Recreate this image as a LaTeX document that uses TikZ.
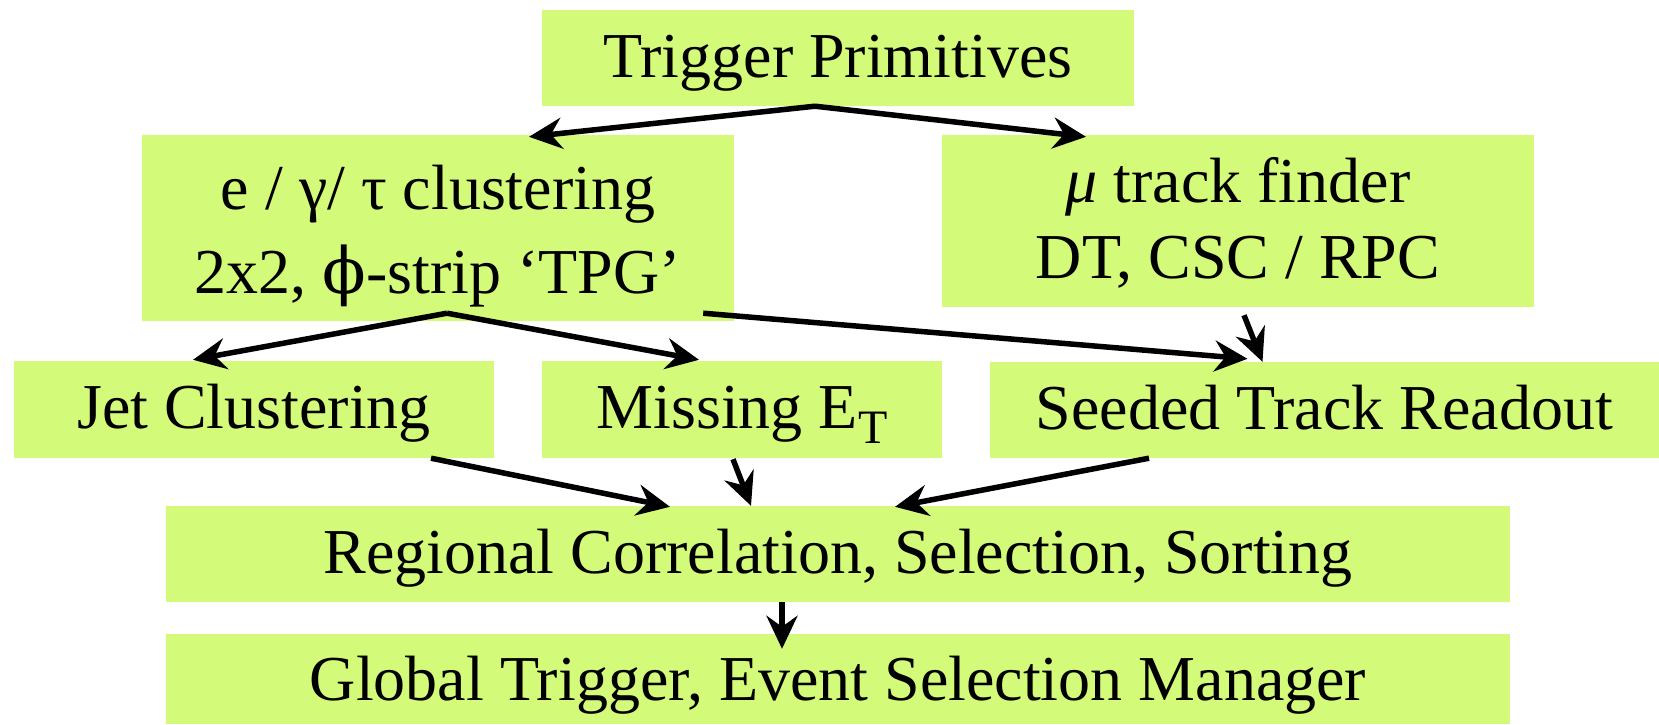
\documentclass[tikz,border=0pt]{standalone}
\usepackage{fontspec}
\setmainfont{Liberation Serif}
\newfontfamily\dvserif{DejaVu Serif}
\usetikzlibrary{arrows.meta}
\definecolor{boxgreen}{HTML}{D4FA7A}
\begin{document}
\begin{tikzpicture}[x=1pt,y=-1pt,
  box/.style={rectangle, fill=boxgreen, inner sep=0pt, font=\fontsize{64}{76}\selectfont, text height=44pt, text depth=6pt},
  arr/.style={-{Stealth[length=33pt,width=31pt,inset=11pt]}, line width=5.5pt, black},
]
\useasboundingbox (0,0) rectangle (1659,724);

\node[box, minimum width=592pt, minimum height=96pt] (tp) at (838,58) {Trigger Primitives};
\node[box, minimum width=592pt, minimum height=186pt, text height=136pt, font=\fontsize{64}{84}\selectfont] (eg) at (438,228)
  {\setlength{\tabcolsep}{0pt}\begin{tabular}[b]{c}e / γ/ τ clustering\\ 2x2, {\dvserif ϕ}-strip ‘TPG’\end{tabular}};
\node[box, minimum width=592pt, minimum height=172pt, text height=120pt, font=\fontsize{64}{76}\selectfont] (mu) at (1238,221)
  {\setlength{\tabcolsep}{0pt}\begin{tabular}[b]{c}\textit{μ} track finder\\ DT, CSC / RPC\end{tabular}};

\node[box, minimum width=480pt, minimum height=97pt] (jet) at (254,409.5) {Jet Clustering};
\node[box, minimum width=400pt, minimum height=97pt] (met) at (742,409.5) {Missing E\raisebox{-15pt}{\fontsize{48}{48}\selectfont T}};
\node[box, minimum width=669pt, minimum height=96pt] (str) at (1324.5,410) {Seeded Track Readout};

\node[box, minimum width=1344pt, minimum height=96pt] (reg) at (838,554) {Regional Correlation, Selection, Sorting};
\node[box, minimum width=1344pt, minimum height=90pt, text height=46pt, text depth=4pt] (glb) at (838,679) {Global Trigger, Event Selection Manager};

\draw[arr] ([xshift=-23pt]tp.south) -- ([xshift=91pt,yshift=-2pt]eg.north);
\draw[arr] ([xshift=-23pt]tp.south) -- ([xshift=-152pt,yshift=-2pt]mu.north);

\draw[arr] ([xshift=9pt,yshift=8pt]eg.south) -- ([xshift=-61pt,yshift=1pt]jet.north);
\draw[arr] ([xshift=9pt,yshift=8pt]eg.south) -- ([xshift=-43pt,yshift=1pt]met.north);
\draw[arr] ([xshift=-31pt,yshift=8pt]eg.south east) -- ([xshift=-77pt,yshift=3pt]str.north);
\draw[arr] ([xshift=6pt,yshift=-8pt]mu.south) -- ([xshift=-62pt]str.north);

\draw[arr] ([xshift=177pt]jet.south) -- ([xshift=-168pt,yshift=-1pt]reg.north);
\draw[arr] ([xshift=-9pt,yshift=-1pt]met.south) -- ([xshift=-87pt]reg.north);
\draw[arr] ([xshift=-175.5pt]str.south) -- ([xshift=57pt,yshift=-1pt]reg.north);

\draw[arr] ([xshift=-56pt]reg.south) -- ([xshift=-56pt,yshift=-15pt]glb.north);
\end{tikzpicture}
\end{document}
